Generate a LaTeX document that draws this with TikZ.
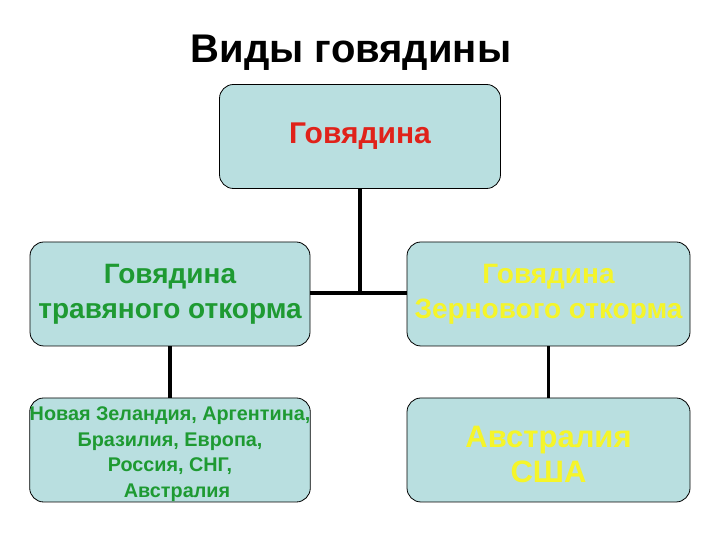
\documentclass[tikz,border=0pt]{standalone}
\usepackage{fontspec}
\setmainfont{Liberation Sans}
\definecolor{boxfill}{HTML}{B9DFE0}
\definecolor{redtxt}{HTML}{E0221A}
\definecolor{greentxt}{HTML}{1E9A32}
\definecolor{yellowtxt}{HTML}{F5F52A}
\begin{document}
\begin{tikzpicture}[x=1pt,y=1pt,
  box/.style={draw=black,line width=0.8pt,fill=boxfill,rounded corners=14pt,
    minimum width=280pt,minimum height=104pt,inner sep=0pt,align=center},
  link/.style={line width=3.5pt,black}]
\useasboundingbox (0,0) rectangle (720,540);
\node[font=\bfseries\fontsize{40}{44}\selectfont] (title) at (351,487) {Виды говядины};
\node[box,minimum width=281pt,text=redtxt,font=\bfseries\fontsize{30}{34}\selectfont] (top) at (360,403.5) {Говядина};
\node[box,text=greentxt,font=\bfseries\fontsize{28}{35}\selectfont] (lm) at (170,246) {Говядина\\травяного откорма};
\node[box,text=greentxt,font=\bfseries\fontsize{19.8}{25.5}\selectfont] (lb) at (170,90) {\rule{0pt}{22pt}Новая Зеландия, Аргентина,\\Бразилия, Европа,\\Россия, СНГ,\\\hspace*{14pt}Австралия};
\node[box,minimum width=283pt,text=yellowtxt,font=\bfseries\fontsize{28}{35}\selectfont] (rm) at (548.5,246) {Говядина\\Зернового откорма};
\node[box,minimum width=283pt,text=yellowtxt,font=\bfseries\fontsize{31}{35}\selectfont] (rb) at (548.5,90) {\rule{0pt}{30pt}Австралия\\США};
\coordinate (j) at (360,247);
\draw[link] (top.south) -- (j);
\draw[link] (lm.east |- j) -- (rm.west |- j);
\draw[link] (lm.south) -- (lb.north);
\draw[link] (rm.south) -- (rb.north);
\end{tikzpicture}
\end{document}
